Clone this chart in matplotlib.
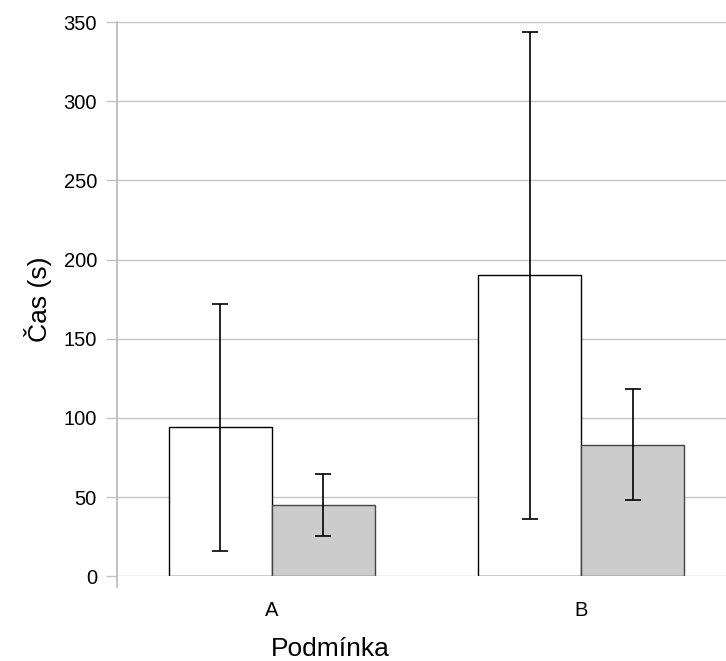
import matplotlib

matplotlib.use("Agg")
import matplotlib.pyplot as plt
import numpy as np

# values
categories = ["A", "B"]
series1_mean = [94, 190]
series1_err = [78, 153.5]
series2_mean = [45, 83]
series2_err = [19.7, 35]
y_ticks = [0, 50, 100, 150, 200, 250, 300, 350]

plt.rcParams["font.family"] = ["Liberation Sans", "DejaVu Sans"]

fig = plt.figure(figsize=(7.26, 6.61), dpi=100)
ax = fig.add_axes([0.1612, 0.1281, 0.8388, 0.8386])

x = np.arange(len(categories))
w = 1 / 3
err_kw = {"ecolor": "black", "elinewidth": 1.2, "capsize": 5.5, "capthick": 1.2}
ax.bar(x - w / 2, series1_mean, w, yerr=series1_err, color="white",
       edgecolor="black", linewidth=1.0, error_kw=err_kw, zorder=3)
ax.bar(x + w / 2, series2_mean, w, yerr=series2_err, color="#cccccc",
       edgecolor="#444444", linewidth=1.0, error_kw=err_kw, zorder=3)

ax.set_xlim(-0.5, 1.468)
ax.set_ylim(0, 350)
ax.set_yticks(y_ticks)
ax.set_xticks(x)
ax.set_xticklabels(categories)
ax.yaxis.grid(True, color="#c4c4c4", linewidth=1.0, zorder=0)
ax.set_axisbelow(True)

for side in ["top", "right", "bottom"]:
    ax.spines[side].set_visible(False)
ax.spines["left"].set_color("#b8b8b8")
ax.spines["left"].set_linewidth(1.2)
ax.spines["left"].set_bounds(-7, 350)

ax.tick_params(axis="y", length=8, color="#c4c4c4", width=1.0, pad=6.5,
               labelsize=14.5)
ax.tick_params(axis="x", length=0, pad=18, labelsize=14.5)

ax.set_ylabel("Čas (s)", fontsize=19)
ax.yaxis.set_label_coords(-0.107, 0.5)
ax.set_xlabel("Podmínka", fontsize=19)
ax.xaxis.set_label_coords(0.35, -0.11)

fig.savefig("out.png", dpi=100)
